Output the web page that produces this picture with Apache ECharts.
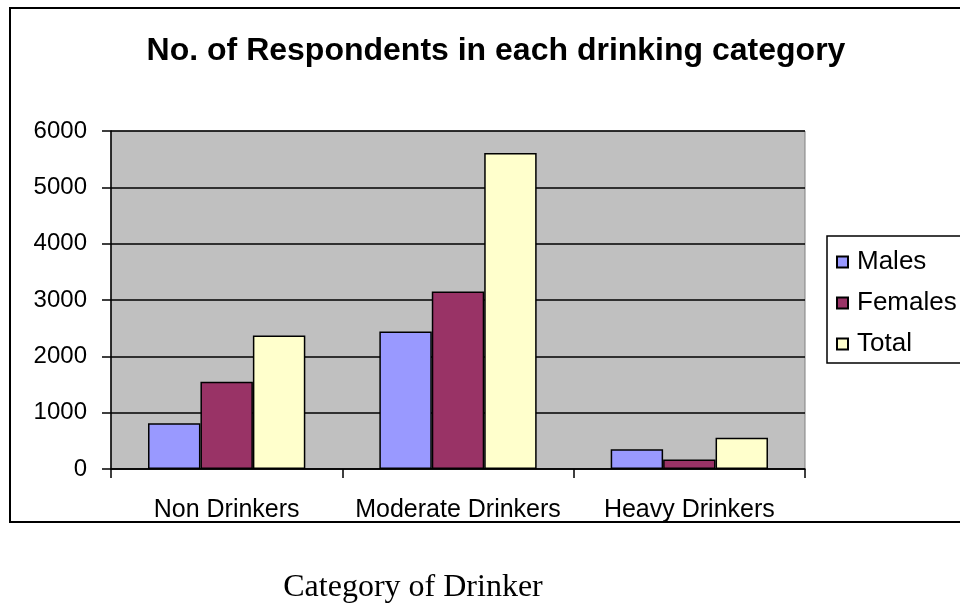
<!DOCTYPE html>
<html>
<head>
<meta charset="utf-8">
<script src="https://cdn.jsdelivr.net/npm/echarts@6/dist/echarts.min.js"></script>
<style>
  html, body { margin: 0; padding: 0; background: #ffffff; }
  #chart { width: 960px; height: 608px; }
</style>
</head>
<body>
<div id="chart"></div>
<script>
// Respondent counts by drinking category
const categories = ['Non Drinkers', 'Moderate Drinkers', 'Heavy Drinkers'];
const seriesNames = ['Males', 'Females', 'Total'];
const males = [810, 2440, 350];
const females = [1550, 3150, 170];
const total = [2370, 5610, 555];
const yTicks = { min: 0, max: 6000, step: 1000 };

const titleText = 'No. of Respondents in each drinking category';
const axisTitle = 'Category of Drinker';

const colors = ['#9999FF', '#993366', '#FFFFCC'];
const sans = 'Liberation Sans, Arial, sans-serif';

const chart = echarts.init(document.getElementById('chart'), null, { renderer: 'canvas' });

const values = [males, females, total];

chart.setOption({
  backgroundColor: '#ffffff',
  animation: false,
  title: {
    text: titleText,
    left: 491,
    top: 30,
    textAlign: 'center',
    textStyle: { fontFamily: sans, fontSize: 32, fontWeight: 'bold', color: '#000' }
  },
  graphic: [
    {
      type: 'rect', z: -1,
      shape: { x: 10, y: 8, width: 980, height: 514 },
      style: { fill: 'none', stroke: '#000', lineWidth: 2 }
    },
    {
      type: 'rect', z: 0,
      shape: { x: 827, y: 236, width: 200, height: 127 },
      style: { fill: '#fff', stroke: '#000', lineWidth: 1.5 }
    },
    {
      type: 'text',
      x: 413, y: 588,
      style: {
        text: axisTitle,
        fontFamily: 'Liberation Serif, Times New Roman, serif',
        fontSize: 32,
        fill: '#000',
        align: 'center',
        verticalAlign: 'middle'
      }
    }
  ],
  legend: {
    data: seriesNames,
    orient: 'vertical',
    left: 836,
    top: 249,
    itemWidth: 11,
    itemHeight: 11,
    itemGap: 15,
    icon: 'rect',
    padding: 0,
    textStyle: { fontFamily: sans, fontSize: 26, color: '#000', lineHeight: 26, padding: [0, 0, 0, 4] }
  },
  grid: {
    left: 111, right: 155, top: 131, bottom: 139,
    show: true,
    backgroundColor: '#C0C0C0',
    borderColor: '#808080',
    borderWidth: 1
  },
  xAxis: {
    type: 'category',
    data: categories,
    axisLine: { lineStyle: { color: '#000', width: 1.5 } },
    axisTick: { show: true, interval: 0, length: 9, lineStyle: { color: '#000', width: 1.5 } },
    axisLabel: { interval: 0, fontFamily: sans, fontSize: 25, color: '#000', margin: 29 },
    splitLine: { show: false }
  },
  yAxis: {
    type: 'value',
    min: yTicks.min,
    max: yTicks.max,
    interval: yTicks.step,
    axisLine: { show: true, lineStyle: { color: '#000', width: 1.5 } },
    axisTick: { show: true, length: 9, lineStyle: { color: '#000', width: 1.5 } },
    axisLabel: { fontFamily: sans, fontSize: 24, color: '#000', margin: 24, formatter: v => String(v) },
    splitLine: { show: true, lineStyle: { color: '#000', width: 1.5 } }
  },
  series: seriesNames.map((name, i) => ({
    name: name,
    type: 'bar',
    data: values[i],
    barGap: '0%',
    barCategoryGap: '32%',
    itemStyle: { color: colors[i], borderColor: '#000', borderWidth: 1.5 }
  }))
});
</script>
</body>
</html>
